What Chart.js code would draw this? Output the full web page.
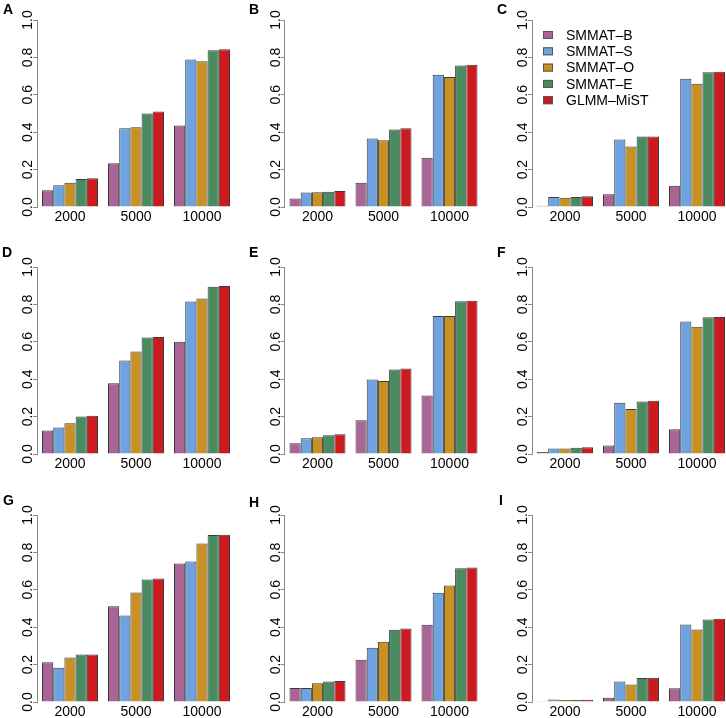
<!DOCTYPE html>
<html>
<head>
<meta charset="utf-8">
<script src="https://cdn.jsdelivr.net/npm/chart.js@4.4.1/dist/chart.umd.min.js"></script>
<style>
    html, body { margin: 0; padding: 0; background: #fff; }
    body { width: 726px; height: 718px; position: relative; overflow: hidden; font-family: "Liberation Sans", Arial, sans-serif; }
    .panel { position: absolute; }
    .panel-tag { position: absolute; font: bold 14px "Liberation Sans", Arial, sans-serif; color: #000; }
</style>
</head>
<body>
<script>
// Sample sizes on the x axis
const sampleSizes = ['2000', '5000', '10000'];

// Methods and their colours
const methods = ['SMMAT–B', 'SMMAT–S', 'SMMAT–O', 'SMMAT–E', 'GLMM–MiST'];
const methodColors = ['#A86595', '#6FA3E0', '#C89124', '#4A8A5F', '#CC1A1F'];

// Power per panel: one row per method, one value per sample size
const powerA = [[0.089, 0.234, 0.436], [0.116, 0.421, 0.789], [0.130, 0.427, 0.780], [0.150, 0.500, 0.838], [0.154, 0.511, 0.843]];
const powerB = [[0.045, 0.130, 0.264], [0.077, 0.366, 0.707], [0.079, 0.357, 0.695], [0.082, 0.414, 0.757], [0.086, 0.421, 0.761]];
const powerC = [[0.007, 0.068, 0.114], [0.054, 0.361, 0.686], [0.050, 0.323, 0.659], [0.054, 0.377, 0.721], [0.057, 0.377, 0.723]];
const powerD = [[0.126, 0.379, 0.600], [0.142, 0.500, 0.815], [0.164, 0.548, 0.831], [0.201, 0.623, 0.895], [0.205, 0.626, 0.899]];
const powerE = [[0.057, 0.180, 0.313], [0.084, 0.399, 0.738], [0.089, 0.390, 0.738], [0.100, 0.452, 0.817], [0.105, 0.457, 0.820]];
const powerF = [[0.011, 0.046, 0.133], [0.030, 0.274, 0.708], [0.030, 0.240, 0.681], [0.034, 0.281, 0.731], [0.036, 0.285, 0.733]];
const powerG = [[0.212, 0.512, 0.740], [0.183, 0.463, 0.751], [0.238, 0.585, 0.847], [0.254, 0.655, 0.893], [0.254, 0.660, 0.895]];
const powerH = [[0.075, 0.226, 0.413], [0.075, 0.290, 0.584], [0.100, 0.322, 0.623], [0.109, 0.386, 0.715], [0.112, 0.393, 0.719]];
const powerI = [[0.004, 0.023, 0.073], [0.014, 0.110, 0.415], [0.011, 0.094, 0.388], [0.012, 0.128, 0.441], [0.012, 0.130, 0.445]];

const yTicks = [0, 0.2, 0.4, 0.6, 0.8, 1.0];

const panels = [
    { tag: 'A', data: powerA }, { tag: 'B', data: powerB }, { tag: 'C', data: powerC, legend: true },
    { tag: 'D', data: powerD }, { tag: 'E', data: powerE }, { tag: 'F', data: powerF },
    { tag: 'G', data: powerG }, { tag: 'H', data: powerH }, { tag: 'I', data: powerI }
];

// layout of the 3x3 grid
const colLeft = [0, 242, 484];
const axisOffset = [37, 42.5, 48];
const rowTop = [0, 247, 495];
const tagPos = [[3, 1], [249, 1], [497, 1], [2, 244], [249, 244], [497, 244], [3, 492], [249, 494], [499, 492]];
const PLOT_W = 198;
const AXIS_COLOR = '#8a8a8a';

// rotated y tick labels (R style) + legend drawn inside the chart area
const rLabelsPlugin = {
    id: 'rLabels',
    afterDraw(chart) {
        const ctx = chart.ctx;
        const y = chart.scales.y;
        const area = chart.chartArea;
        ctx.save();
        ctx.fillStyle = '#000';
        ctx.font = '14px "Liberation Sans", Arial, sans-serif';
        ctx.textAlign = 'center';
        ctx.textBaseline = 'alphabetic';
        y.ticks.forEach(t => {
            const py = y.getPixelForValue(t.value);
            ctx.save();
            ctx.translate(area.left - 5, py);
            ctx.rotate(-Math.PI / 2);
            ctx.fillText(t.value.toFixed(1), 0, 0);
            ctx.restore();
        });

        if (chart.options.plugins.rLabels && chart.options.plugins.rLabels.legend) {
            const bx = area.left + 11;
            chart.data.datasets.forEach((ds, i) => {
                const cy = area.top + 15 + i * 16.3;
                ctx.fillStyle = ds.backgroundColor;
                ctx.fillRect(bx, cy - 4, 10, 8);
                ctx.strokeStyle = '#555';
                ctx.lineWidth = 1;
                ctx.strokeRect(bx + 0.5, cy - 3.5, 9, 7);
                ctx.fillStyle = '#000';
                ctx.textAlign = 'left';
                ctx.textBaseline = 'middle';
                ctx.fillText(ds.label, bx + 23, cy + 1);
            });
        }
        ctx.restore();
    }
};

function renderPanel(panel, idx) {
    const col = idx % 3;
    const row = Math.floor(idx / 3);
    const left = axisOffset[col];
    const width = col === 2 ? 250 : 242;

    const canvas = document.createElement('canvas');
    canvas.className = 'panel';
    canvas.width = width;
    canvas.height = 240;
    canvas.style.left = colLeft[col] + 'px';
    canvas.style.top = rowTop[row] + 'px';
    document.body.appendChild(canvas);

    const tag = document.createElement('div');
    tag.className = 'panel-tag';
    tag.textContent = panel.tag;
    tag.style.left = tagPos[idx][0] + 'px';
    tag.style.top = tagPos[idx][1] + 'px';
    document.body.appendChild(tag);

    new Chart(canvas, {
        type: 'bar',
        data: {
            labels: sampleSizes,
            datasets: methods.map((m, i) => ({
                label: m,
                data: panel.data[i],
                backgroundColor: methodColors[i],
                borderColor: '#3a3a3a',
                borderWidth: 1,
                borderSkipped: 'bottom',
                categoryPercentage: 56 / 66,
                barPercentage: 1.0
            }))
        },
        options: {
            responsive: false,
            animation: false,
            devicePixelRatio: 1,
            layout: { padding: { top: 20, right: width - left - PLOT_W, left: 0, bottom: 0 } },
            plugins: {
                legend: { display: false },
                tooltip: { enabled: false },
                rLabels: { legend: !!panel.legend }
            },
            scales: {
                x: {
                    grid: { display: false, drawTicks: false },
                    border: { display: false },
                    ticks: {
                        color: '#000',
                        padding: 2,
                        font: { family: '"Liberation Sans", Arial, sans-serif', size: 14 }
                    },
                    afterFit: s => { s.height = 33; }
                },
                y: {
                    min: 0,
                    max: 1,
                    afterBuildTicks: s => { s.ticks = yTicks.map(v => ({ value: v })); },
                    ticks: { display: false },
                    grid: { drawOnChartArea: false, drawTicks: true, tickLength: 4, color: AXIS_COLOR },
                    border: { display: true, color: AXIS_COLOR, width: 1 },
                    afterFit: s => { s.width = left; }
                }
            }
        },
        plugins: [rLabelsPlugin]
    });
}

panels.forEach(renderPanel);
</script>
</body>
</html>
